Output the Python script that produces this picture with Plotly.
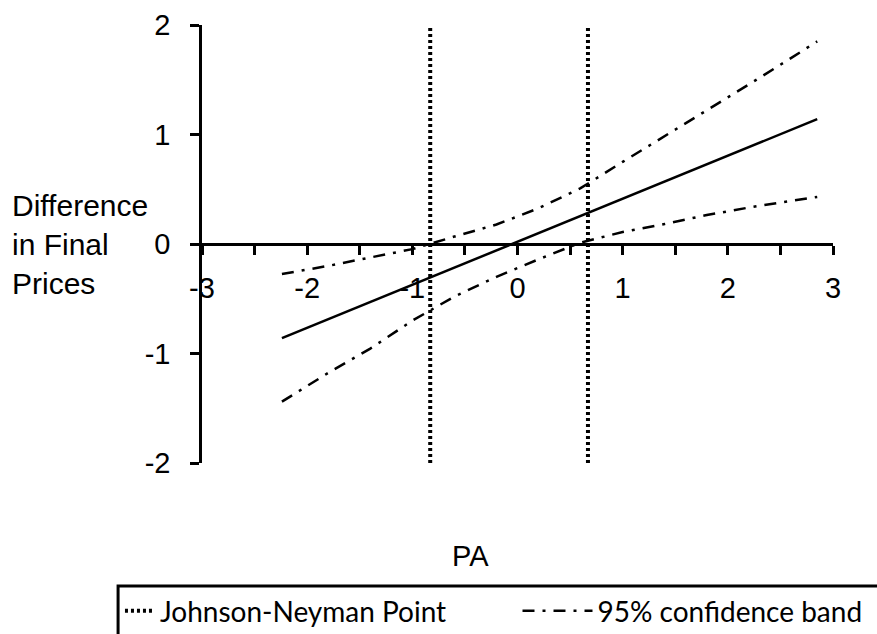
import plotly.graph_objects as go

# ---- data ----
pa_line = [-2.24, 2.85]
effect_line = [-0.86, 1.14]

pa_band = [-2.24, -1.8, -1.4, -1.0, -0.6, -0.2, 0.2, 0.6, 1.0, 1.4, 1.8, 2.2, 2.6, 2.85]
upper_band = [-0.274, -0.20, -0.123, -0.047, 0.068, 0.178, 0.326, 0.51, 0.75, 0.983, 1.221, 1.457, 1.698, 1.85]
lower_band = [-1.44, -1.177, -0.955, -0.70, -0.48, -0.30, -0.14, 0.013, 0.109, 0.183, 0.264, 0.333, 0.394, 0.43]

jn_points = [-0.83, 0.67]
jn_span = [-2, 2]

x_ticks = [-3, -2.5, -2, -1.5, -1, -0.5, 0, 0.5, 1, 1.5, 2, 2.5, 3]
x_ticktext = ["-3", "", "-2", "", "-1", "", "0", "", "1", "", "2", "", "3"]
y_ticks = [-2, -1, 0, 1, 2]
y_ticktext = ["-2", "-1", "0", "1", "2"]

AXFONT = "Liberation Sans, Arial, sans-serif"
LEGFONT = "Lato, Carlito, sans-serif"
DASHDOT = "12px,8px,3px,8px"

fig = go.Figure()

# Johnson-Neyman vertical lines
for i, xv in enumerate(jn_points):
    fig.add_trace(go.Scatter(
        x=[xv, xv], y=jn_span, mode="lines",
        line=dict(color="black", width=4, dash="3px,3px"),
        name="Johnson-Neyman Point", showlegend=(i == 0), legend="legend",
        hoverinfo="skip"))

# confidence bands
fig.add_trace(go.Scatter(
    x=pa_band, y=upper_band, mode="lines",
    line=dict(color="black", width=2.5, dash=DASHDOT),
    name="95% confidence band", showlegend=True, legend="legend2"))
fig.add_trace(go.Scatter(
    x=pa_band, y=lower_band, mode="lines",
    line=dict(color="black", width=2.5, dash=DASHDOT),
    name="95% confidence band (lower)", showlegend=False))

# estimated effect
fig.add_trace(go.Scatter(
    x=pa_line, y=effect_line, mode="lines",
    line=dict(color="black", width=2.5),
    name="Effect", showlegend=False))

legend_common = dict(
    orientation="h", yanchor="middle", y=-0.338, xanchor="left",
    font=dict(family=LEGFONT, size=28, color="black"),
    bgcolor="rgba(0,0,0,0)", borderwidth=0,
)

fig.update_layout(
    width=877, height=634,
    margin=dict(l=202, r=44, t=25, b=171, autoexpand=False),
    paper_bgcolor="white", plot_bgcolor="white",
    font=dict(family=AXFONT, color="black", size=29),
    xaxis=dict(
        range=[-3, 3], anchor="free", position=0.5,
        tickmode="array", tickvals=x_ticks, ticktext=x_ticktext,
        ticks="outside", ticklen=9, tickwidth=2.5, tickcolor="black",
        ticklabelstandoff=8,
        showline=True, linecolor="black", linewidth=2.5,
        showgrid=False, zeroline=False,
        tickfont=dict(family=AXFONT, size=29, color="black"),
    ),
    yaxis=dict(
        range=[-2, 2],
        tickmode="array", tickvals=y_ticks, ticktext=y_ticktext,
        ticks="outside", ticklen=9, tickwidth=2.5, tickcolor="black",
        ticklabelstandoff=14,
        showline=True, linecolor="black", linewidth=2.5,
        showgrid=False, zeroline=False,
        tickfont=dict(family=AXFONT, size=29, color="black"),
    ),
    legend=dict(x=-0.130, itemwidth=30, **legend_common),
    legend2=dict(x=0.50, itemwidth=70, **legend_common),
    showlegend=True,
)

# y-axis title (multi-line, left of the axis)
fig.add_annotation(
    xref="paper", yref="paper", x=-0.304, y=0.5,
    xanchor="left", yanchor="middle", align="left", showarrow=False,
    text="Difference<br>in Final<br>Prices",
    font=dict(family=AXFONT, size=30, color="black"))

# x-axis title
fig.add_annotation(
    xref="paper", yref="paper", x=0.426, y=-0.212,
    xanchor="center", yanchor="middle", showarrow=False,
    text="PA", font=dict(family=AXFONT, size=29, color="black"))

# legend frame (extends past the figure edges as in the reference)
fig.add_shape(type="rect", xref="paper", yref="paper",
              x0=-0.133, x1=1.08, y0=-0.45, y1=-0.281,
              line=dict(color="black", width=3), fillcolor="rgba(0,0,0,0)",
              layer="above")

fig.write_html("out.html")
